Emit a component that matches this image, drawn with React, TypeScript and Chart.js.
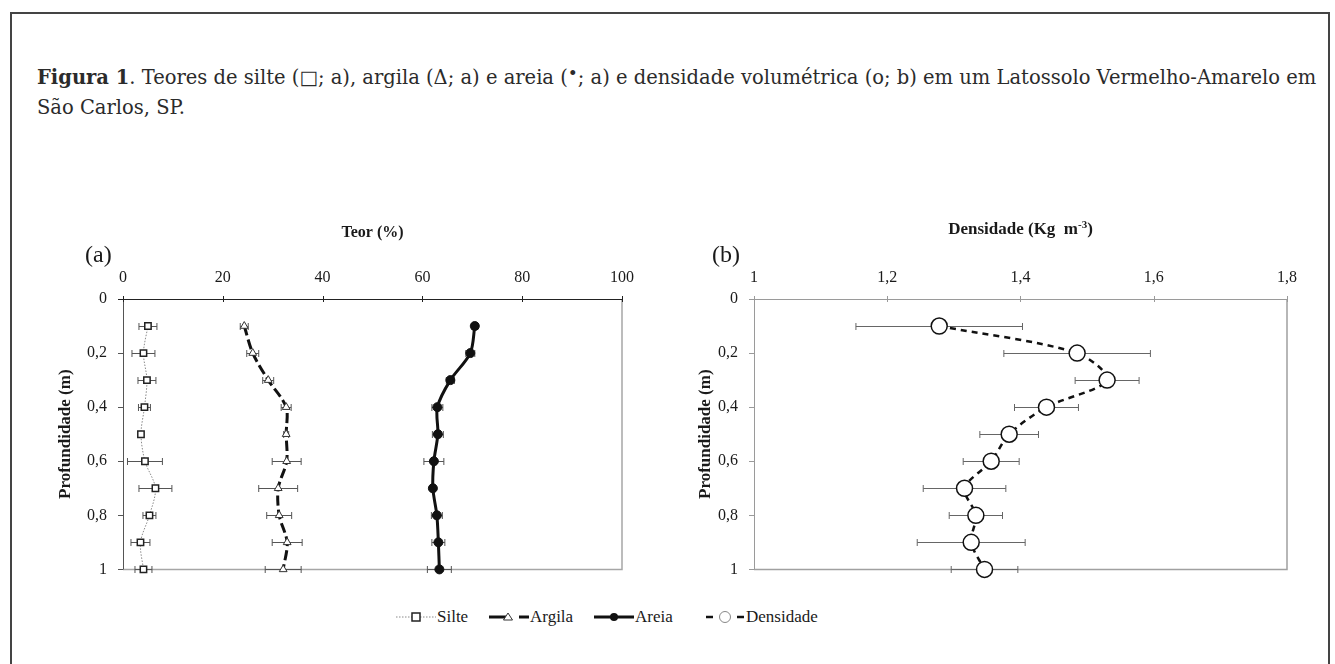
import React, { useEffect, useRef } from "react";
import { Chart, registerables } from "chart.js";

Chart.register(...registerables);

// ---------------- data ----------------
const depth = [0.1, 0.2, 0.3, 0.4, 0.5, 0.6, 0.7, 0.8, 0.9, 1.0];

const silte = [5.0, 4.1, 4.8, 4.3, 3.6, 4.4, 6.5, 5.3, 3.5, 4.1];
const silteErr = [1.8, 2.3, 1.8, 1.2, 0.5, 3.5, 3.3, 1.3, 1.9, 1.7];

const argila = [24.3, 26.0, 29.1, 32.7, 32.7, 32.8, 31.1, 31.3, 32.9, 32.1];
const argilaErr = [0.8, 1.2, 1.1, 1.0, 0.5, 2.9, 3.9, 2.5, 3.0, 3.6];

const areia = [70.5, 69.6, 65.6, 63.0, 63.1, 62.3, 62.1, 62.9, 63.2, 63.4];
const areiaErr = [0.6, 0.9, 0.8, 1.1, 1.1, 2.0, 0.5, 1.1, 1.3, 2.4];

const densidade = [1.278, 1.485, 1.53, 1.439, 1.383, 1.356, 1.316, 1.333, 1.326, 1.346];
const densidadeErr = [0.125, 0.11, 0.048, 0.048, 0.044, 0.042, 0.062, 0.04, 0.081, 0.05];

const teorTicks = [0, 20, 40, 60, 80, 100];
const densTicks = [1, 1.2, 1.4, 1.6, 1.8];
const depthTicks = [0, 0.2, 0.4, 0.6, 0.8, 1];

const SERIF = "'Liberation Serif', 'Times New Roman', serif";

const fmt = (v: number) => String(Math.round(v * 10) / 10).replace(".", ",");
const pts = (xs: number[]) => xs.map((x, i) => ({ x, y: depth[i] }));

// ---------------- plugins ----------------
const errorBars = {
  id: "errorBars",
  beforeDatasetsDraw(chart: any) {
    const { ctx } = chart;
    const xs = chart.scales.x;
    const ys = chart.scales.y;
    chart.data.datasets.forEach((ds: any) => {
      if (!ds.errX) return;
      ctx.save();
      ctx.strokeStyle = ds.errColor || "#555";
      ctx.lineWidth = 1;
      ds.data.forEach((d: any, j: number) => {
        const e = ds.errX[j];
        const y = Math.round(ys.getPixelForValue(d.y)) + 0.5;
        const x1 = xs.getPixelForValue(d.x - e);
        const x2 = xs.getPixelForValue(d.x + e);
        ctx.beginPath();
        ctx.moveTo(x1, y);
        ctx.lineTo(x2, y);
        ctx.moveTo(x1, y - 3.5);
        ctx.lineTo(x1, y + 3.5);
        ctx.moveTo(x2, y - 3.5);
        ctx.lineTo(x2, y + 3.5);
        ctx.stroke();
      });
      ctx.restore();
    });
  },
};

const axesDeco = {
  id: "axesDeco",
  beforeDatasetsDraw(chart: any, _args: any, opts: any) {
    const { ctx, chartArea: a } = chart;
    const xs = chart.scales.x;
    const ys = chart.scales.y;
    ctx.save();
    // box right/bottom
    ctx.strokeStyle = opts.boxColor;
    ctx.lineWidth = 1.5;
    ctx.beginPath();
    ctx.moveTo(a.right, a.top);
    ctx.lineTo(a.right, a.bottom);
    ctx.lineTo(a.left, a.bottom);
    ctx.stroke();
    // left axis
    ctx.strokeStyle = opts.leftColor;
    ctx.lineWidth = 1;
    ctx.beginPath();
    ctx.moveTo(a.left + 0.5, a.top);
    ctx.lineTo(a.left + 0.5, a.bottom);
    depthTicks.forEach((t) => {
      const y = Math.round(ys.getPixelForValue(t)) + 0.5;
      ctx.moveTo(a.left - 5, y);
      ctx.lineTo(a.left, y);
    });
    ctx.stroke();
    // top axis
    ctx.strokeStyle = opts.topColor;
    ctx.lineWidth = 1;
    ctx.beginPath();
    ctx.moveTo(a.left - 5, a.top + 0.5);
    ctx.lineTo(a.right, a.top + 0.5);
    (opts.ticks as number[]).forEach((t) => {
      const x = Math.round(xs.getPixelForValue(t)) + 0.5;
      ctx.moveTo(x, a.top - 3);
      ctx.lineTo(x, a.top + 3);
    });
    ctx.stroke();
    ctx.restore();
  },
  afterDraw(chart: any, _args: any, opts: any) {
    const { ctx, chartArea: a } = chart;
    ctx.save();
    ctx.fillStyle = "#1a1a1a";
    // panel letter
    ctx.font = `24px ${SERIF}`;
    ctx.textAlign = "left";
    ctx.textBaseline = "middle";
    ctx.fillText(opts.letter, a.left + opts.letterDx, a.top - 43);
    // top title (with optional superscript)
    const fs = opts.titleSize;
    const bigF = `bold ${fs}px ${SERIF}`;
    const supF = `bold ${Math.round(fs * 0.62)}px ${SERIF}`;
    ctx.font = bigF;
    const main = opts.title;
    const sup = opts.titleSup || "";
    const tail = opts.titleTail || "";
    const wMain = ctx.measureText(main).width;
    ctx.font = supF;
    const wSup = ctx.measureText(sup).width;
    ctx.font = bigF;
    const wTail = ctx.measureText(tail).width;
    const total = wMain + wSup + wTail;
    let x = (a.left + a.right) / 2 - total / 2;
    const ty = a.top + opts.titleDy;
    ctx.fillText(main, x, ty);
    x += wMain;
    if (sup) {
      ctx.font = supF;
      ctx.fillText(sup, x, ty - 5);
      x += wSup;
      ctx.font = bigF;
    }
    if (tail) ctx.fillText(tail, x, ty);
    // y title
    ctx.save();
    ctx.translate(a.left + opts.yTitleDx, (a.top + a.bottom) / 2);
    ctx.rotate(-Math.PI / 2);
    ctx.textAlign = "center";
    ctx.font = `bold 17px ${SERIF}`;
    ctx.fillText("Profundidade (m)", 0, 0);
    ctx.restore();
    ctx.restore();
  },
};

// ---------------- chart factory ----------------
function makeOptions(o: {
  xMin: number;
  xMax: number;
  step: number;
  yWidth: number;
  padRight: number;
  padBottom: number;
  deco: any;
}) {
  return {
    responsive: false,
    animation: false as const,
    layout: { padding: { left: 0, top: 0, right: o.padRight, bottom: o.padBottom } },
    plugins: {
      legend: { display: false },
      tooltip: { enabled: false },
      axesDeco: o.deco,
    },
    scales: {
      x: {
        type: "linear" as const,
        position: "top" as const,
        min: o.xMin,
        max: o.xMax,
        grid: { display: false, drawTicks: false },
        border: { display: false },
        ticks: {
          stepSize: o.step,
          padding: 12,
          color: "#1a1a1a",
          font: { family: SERIF, size: 16 },
          callback: (v: any) => fmt(Number(v)),
        },
        afterFit: (s: any) => {
          s.height = 84;
        },
      },
      y: {
        type: "linear" as const,
        min: 0,
        max: 1,
        reverse: true,
        grid: { display: false, drawTicks: false },
        border: { display: false },
        ticks: {
          stepSize: 0.2,
          padding: 16,
          color: "#1a1a1a",
          font: { family: SERIF, size: 16 },
          callback: (v: any) => fmt(Number(v)),
        },
        afterFit: (s: any) => {
          s.width = o.yWidth;
        },
      },
    },
  };
}

function TeorChart() {
  const ref = useRef<HTMLCanvasElement>(null);
  useEffect(() => {
    if (!ref.current) return;
    const chart = new Chart(ref.current, {
      type: "scatter",
      data: {
        datasets: [
          {
            label: "Silte",
            data: pts(silte),
            errX: silteErr,
            showLine: true,
            tension: 0.3,
            borderColor: "#8a8a8a",
            borderWidth: 1,
            borderDash: [1.5, 1.5],
            pointStyle: "rect",
            pointRadius: 4.5,
            pointBackgroundColor: "#ffffff",
            pointBorderColor: "#222",
            pointBorderWidth: 1.5,
            clip: false,
          } as any,
          {
            label: "Argila",
            data: pts(argila),
            errX: argilaErr,
            showLine: true,
            tension: 0.3,
            borderColor: "#111",
            borderWidth: 3,
            borderDash: [10, 4],
            pointStyle: "triangle",
            pointRadius: 4.5,
            pointBackgroundColor: "#ffffff",
            pointBorderColor: "#333",
            pointBorderWidth: 1,
            clip: false,
          } as any,
          {
            label: "Areia",
            data: pts(areia),
            errX: areiaErr,
            showLine: true,
            tension: 0.3,
            borderColor: "#111",
            borderWidth: 3,
            pointStyle: "circle",
            pointRadius: 4.5,
            pointBackgroundColor: "#111",
            pointBorderColor: "#111",
            pointBorderWidth: 1,
            clip: false,
          } as any,
        ],
      },
      options: makeOptions({
        xMin: 0,
        xMax: 100,
        step: 20,
        yWidth: 93,
        padRight: 48,
        padBottom: 22,
        deco: {
          boxColor: "#a6a6a6",
          leftColor: "#555",
          topColor: "#222",
          ticks: teorTicks,
          letter: "(a)",
          letterDx: -38,
          title: "Teor (%)",
          titleSize: 16,
          titleDy: -66,
          yTitleDx: -57,
        },
      }) as any,
      plugins: [axesDeco, errorBars],
    });
    return () => chart.destroy();
  }, []);
  return (
    <canvas
      ref={ref}
      width={640}
      height={380}
      style={{ position: "absolute", left: 30, top: 215, width: 640, height: 380 }}
    />
  );
}

function DensChart() {
  const ref = useRef<HTMLCanvasElement>(null);
  useEffect(() => {
    if (!ref.current) return;
    const chart = new Chart(ref.current, {
      type: "scatter",
      data: {
        datasets: [
          {
            label: "Densidade",
            data: pts(densidade),
            errX: densidadeErr,
            errColor: "#666",
            showLine: true,
            tension: 0.3,
            borderColor: "#111",
            borderWidth: 2.5,
            borderDash: [6, 5],
            pointStyle: "circle",
            pointRadius: 8,
            pointBackgroundColor: "#ffffff",
            pointBorderColor: "#111",
            pointBorderWidth: 1.5,
            clip: false,
          } as any,
        ],
      },
      options: makeOptions({
        xMin: 1,
        xMax: 1.8,
        step: 0.2,
        yWidth: 64,
        padRight: 43,
        padBottom: 23,
        deco: {
          boxColor: "#a0a0a0",
          leftColor: "#9a9a9a",
          topColor: "#9a9a9a",
          ticks: densTicks,
          letter: "(b)",
          letterDx: -42,
          title: "Densidade (Kg  m",
          titleSup: "-3",
          titleTail: ")",
          titleSize: 17,
          titleDy: -69,
          yTitleDx: -48,
        },
      }) as any,
      plugins: [axesDeco, errorBars],
    });
    return () => chart.destroy();
  }, []);
  return (
    <canvas
      ref={ref}
      width={640}
      height={380}
      style={{ position: "absolute", left: 690, top: 215, width: 640, height: 380 }}
    />
  );
}

// ---------------- legend swatches ----------------
function Swatch({ kind }: { kind: string }) {
  const w = 40;
  const h = 14;
  const c = h / 2;
  if (kind === "silte")
    return (
      <svg width={w} height={h}>
        <line x1={0} y1={c} x2={w} y2={c} stroke="#8a8a8a" strokeWidth={1} strokeDasharray="1.5 1.5" />
        <rect x={w / 2 - 4} y={c - 4} width={8} height={8} fill="#fff" stroke="#222" strokeWidth={1.5} />
      </svg>
    );
  if (kind === "argila")
    return (
      <svg width={w} height={h}>
        <line x1={0} y1={c} x2={17} y2={c} stroke="#111" strokeWidth={3} />
        <line x1={30} y1={c} x2={40} y2={c} stroke="#111" strokeWidth={3} />
        <polygon points={`${19},${c - 4} ${23.5},${c + 3} ${14.5},${c + 3}`} fill="#fff" stroke="#333" strokeWidth={1} />
      </svg>
    );
  if (kind === "areia")
    return (
      <svg width={w} height={h}>
        <line x1={0} y1={c} x2={w} y2={c} stroke="#111" strokeWidth={3} />
        <circle cx={w / 2} cy={c} r={4} fill="#111" />
      </svg>
    );
  return (
    <svg width={w} height={h}>
      <line x1={1} y1={c} x2={8} y2={c} stroke="#111" strokeWidth={2.5} />
      <line x1={32} y1={c} x2={39} y2={c} stroke="#111" strokeWidth={2.5} />
      <circle cx={w / 2} cy={c} r={5.5} fill="#fff" stroke="#888" strokeWidth={1} />
    </svg>
  );
}

const legendItems = [
  { kind: "silte", label: "Silte", x: 396 },
  { kind: "argila", label: "Argila", x: 489 },
  { kind: "areia", label: "Areia", x: 594 },
  { kind: "dens", label: "Densidade", x: 705 },
];

export default function App() {
  useEffect(() => {
    document.body.style.margin = "0";
    document.body.style.background = "#fff";
  }, []);
  return (
    <div style={{ position: "relative", width: 1335, height: 664, overflow: "hidden", background: "#fff" }}>
      <div
        style={{
          position: "absolute",
          left: 10,
          top: 12,
          width: 1320,
          height: 660,
          borderTop: "2px solid #444",
          borderLeft: "2px solid #444",
          borderRight: "2px solid #444",
          boxSizing: "border-box",
        }}
      />
      <div
        style={{
          position: "absolute",
          left: 37,
          top: 63,
          fontFamily: "'DejaVu Serif', serif",
          fontSize: 19.5,
          lineHeight: "29px",
          color: "#2b2b2b",
          whiteSpace: "nowrap",
        }}
      >
        <div>
          <b>Figura 1</b>. Teores de silte (□; a), argila (Δ; a) e areia (
          <span style={{ fontSize: 17, position: "relative", top: -5 }}>•</span>; a) e densidade volumétrica (o; b) em
          um Latossolo Vermelho-Amarelo em
        </div>
        <div>São Carlos, SP.</div>
      </div>
      <TeorChart />
      <DensChart />
      {legendItems.map((it) => (
        <div
          key={it.kind}
          style={{
            position: "absolute",
            left: it.x,
            top: 606,
            height: 22,
            display: "flex",
            alignItems: "center",
            fontFamily: SERIF,
            fontSize: 17,
            color: "#1a1a1a",
            whiteSpace: "nowrap",
          }}
        >
          <Swatch kind={it.kind} />
          <span style={{ marginLeft: 1 }}>{it.label}</span>
        </div>
      ))}
    </div>
  );
}
